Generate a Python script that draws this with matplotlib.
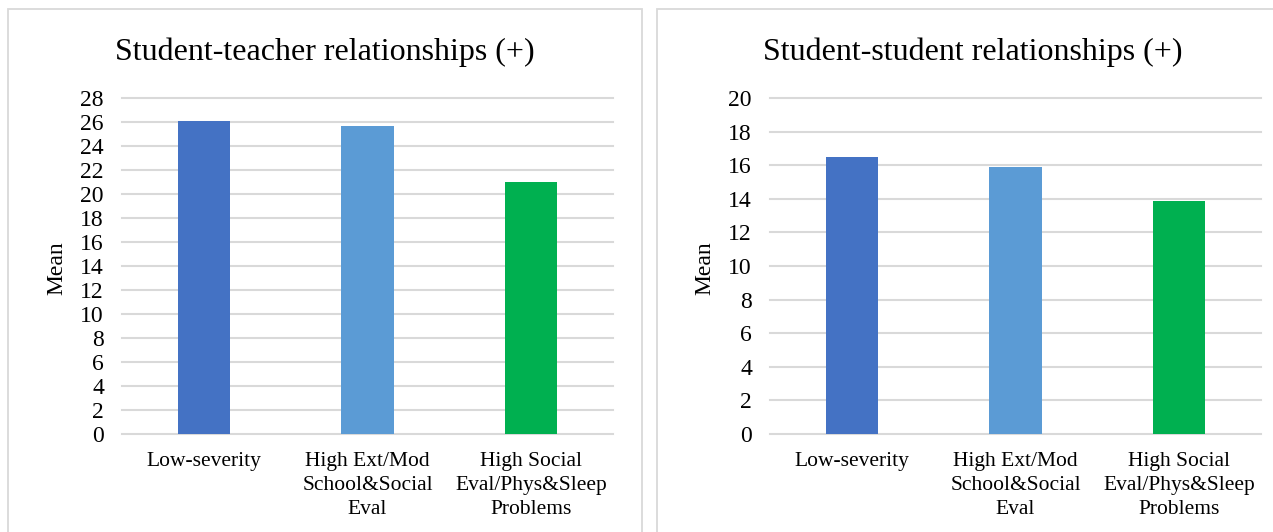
import matplotlib
matplotlib.use("Agg")
import matplotlib.pyplot as plt
from matplotlib.patches import Rectangle

# Medias por perfil, dos paneles

categorias = ["Low-severity",
              "High Ext/Mod\nSchool&Social\nEval",
              "High Social\nEval/Phys&Sleep\nProblems"]
colores = ["#4472C4", "#5B9BD5", "#00B050"]

titulo_izq = "Student-teacher relationships (+)"
medias_izq = [26.1, 25.7, 21.0]
ticks_izq = list(range(0, 29, 2))

titulo_der = "Student-student relationships (+)"
medias_der = [16.5, 15.9, 13.85]
ticks_der = list(range(0, 21, 2))

plt.rcParams['font.family'] = ['Liberation Serif', 'DejaVu Serif']

W, H = 1273, 532
fig = plt.figure(figsize=(W / 100, H / 100), dpi=100)

GRIS = "#d9d9d9"


def _marco(x0, x1):
    r = Rectangle((x0 / W, -0.05), (x1 - x0) / W, (H - 9) / H + 0.05,
                  transform=fig.transFigure, fill=False,
                  edgecolor=GRIS, linewidth=1.3)
    fig.patches.append(r)


def _panel(left_px, valores, ticks, titulo, x_titulo, x_mean):
    ax = fig.add_axes([left_px / W, (H - 434) / H, 491 / W, 336 / H])
    ax.bar(range(len(valores)), valores, width=0.32, color=colores, zorder=3)
    ax.set_xlim(-0.5, len(valores) - 0.5)
    ax.set_ylim(ticks[0], ticks[-1])
    ax.set_yticks(ticks)
    ax.set_xticks(range(len(categorias)))
    ax.set_xticklabels(categorias, fontsize=15.5, linespacing=1.36)
    ax.tick_params(axis='y', length=0, pad=13, labelsize=17)
    ax.tick_params(axis='x', length=0, pad=13)
    for s in ax.spines.values():
        s.set_visible(False)
    ax.yaxis.grid(True, color=GRIS, linewidth=1.5, zorder=0)
    for gl in ax.get_ygridlines():
        gl.set_clip_on(False)
    ax.set_axisbelow(True)
    fig.text(x_titulo / W, (H - 60) / H, titulo, fontsize=23,
             ha='center', va='baseline')
    fig.text(x_mean / W, (H - 268) / H, "Mean", fontsize=17,
             rotation=90, ha='center', va='center')
    return ax


_marco(8, 642)
_marco(657, 1290)
_panel(122, medias_izq, ticks_izq, titulo_izq, 325, 57)
_panel(770, medias_der, ticks_der, titulo_der, 973, 705)

fig.savefig("out.png", dpi=100)
